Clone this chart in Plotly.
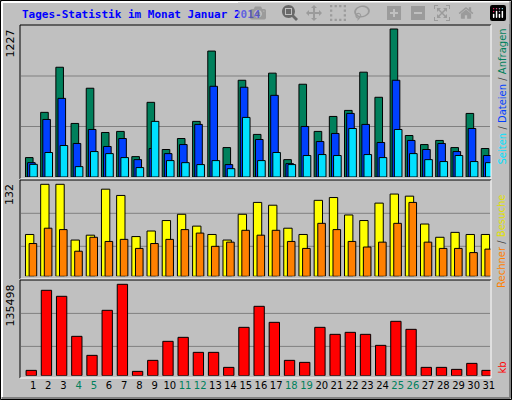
import plotly.graph_objects as go

days = list(range(1, 32))
weekend = [4, 5, 11, 12, 18, 19, 25, 26]
anfragen = [161,536,910,444,736,369,378,169,619,228,319,461,1044,244,802,353,861,144,769,378,502,552,869,661,1227,344,269,303,244,527,236]
dateien = [119,477,652,278,394,253,319,144,236,194,269,436,752,103,744,311,677,111,419,294,361,527,436,286,802,303,228,278,211,402,178]
seiten = [105,203,261,86,211,194,161,78,461,136,119,103,136,69,494,136,203,103,178,186,178,402,186,161,394,194,144,128,178,128,119]
besuche = [60,132,132,52,59,125,116,57,65,80,89,72,60,52,89,106,102,69,60,109,113,88,80,105,118,115,75,56,63,60,60]
rechner = [47,69,67,36,56,50,53,40,47,53,67,62,43,49,66,59,66,50,40,76,67,50,42,49,76,106,49,40,40,34,39]
kb = [7912,126600,117700,58350,30170,96930,135498,6430,22750,50940,56870,34620,34620,12360,71710,102860,79120,22750,19780,71710,61320,64290,61320,45000,80610,68740,12360,12360,9400,18300,7912]
max_top, max_mid, max_bot = 1227, 132, 135498

W, H = 512, 400
L, R, T, B = 20, 21, 25, 22
PW, PH = W - L - R, H - T - B
def px(x): return (x - L) / PW
def py(y): return (H - B - y) / PH

fig = go.Figure()
line = dict(color="black", width=1)
def bar(vals, color, yaxis, offset, width):
    fig.add_trace(go.Bar(x=days, y=vals, marker=dict(color=color, line=line),
                         offset=offset, width=width, yaxis=yaxis, showlegend=False))
bar(anfragen, "#00805C", "y", -0.5, 0.5)
bar(dateien, "#0040FF", "y", -0.36, 0.5)
bar(seiten, "#00E0FF", "y", -0.22, 0.5)
bar(besuche, "#FFFF00", "y2", -0.5, 0.55)
bar(rechner, "#FF8000", "y2", -0.26, 0.5)
bar(kb, "#FF0000", "y3", -0.46, 0.68)

ticktext = [f"<span style='color:#00805C'>{d}</span>" if d in weekend else str(d) for d in days]
ax = dict(showgrid=False, zeroline=False, showticklabels=False, fixedrange=True)
fig.update_layout(
    width=W, height=H, margin=dict(l=L, r=R, t=T, b=B),
    paper_bgcolor="#C0C0C0", plot_bgcolor="#C0C0C0", barmode="overlay",
    font=dict(family="DejaVu Sans", size=10, color="black"),
    xaxis=dict(range=[0.14, 31.14], tickvals=days, ticktext=ticktext, showgrid=False,
               zeroline=False, ticks="", anchor="free", position=0, tickangle=0,
               automargin=False, tickfont=dict(size=10)),
    yaxis=dict(ax, domain=[py(177), 1.0], range=[0, max_top * 152 / 148]),
    yaxis2=dict(ax, domain=[py(276.3), py(180)], range=[0, max_mid * 96.3 / 92]),
    yaxis3=dict(ax, domain=[py(375.7), py(280)], range=[0, max_bot * 95.7 / 91.4]),
)

shapes = []
for yax, dom_vals in [("y", [max_top * 50.5 / 148, max_top * 101 / 148]),
                      ("y2", [max_mid * 30 / 92, max_mid * 63 / 92]),
                      ("y3", [max_bot * 29.3 / 91.4, max_bot * 62.3 / 91.4])]:
    for v in dom_vals:
        shapes.append(dict(type="line", xref="paper", yref=yax, x0=px(21), x1=px(490),
                           y0=v, y1=v, line=dict(color="#808080", width=1), layer="below"))
for (y0, y1) in [(25, 179), (180, 279), (280, 378)]:
    shapes.append(dict(type="line", xref="paper", yref="paper", x0=px(20), x1=px(491), y0=py(y0), y1=py(y0), line=dict(color="black", width=1)))
    shapes.append(dict(type="line", xref="paper", yref="paper", x0=px(20), x1=px(20), y0=py(y0), y1=py(y1), line=dict(color="black", width=1)))
    shapes.append(dict(type="line", xref="paper", yref="paper", x0=px(491), x1=px(491), y0=py(y0), y1=py(y1), line=dict(color="white", width=1)))
    shapes.append(dict(type="line", xref="paper", yref="paper", x0=px(20), x1=px(491), y0=py(y1), y1=py(y1), line=dict(color="white", width=1)))
shapes.append(dict(type="rect", xref="paper", yref="paper", x0=px(0.5), x1=px(511.5), y0=py(0.5), y1=py(399.5), line=dict(color="black", width=1)))
shapes.append(dict(type="line", xref="paper", yref="paper", x0=px(2), x1=px(509), y0=py(2), y1=py(2), line=dict(color="white", width=2)))
shapes.append(dict(type="line", xref="paper", yref="paper", x0=px(2), x1=px(2), y0=py(2), y1=py(397), line=dict(color="white", width=2)))
shapes.append(dict(type="line", xref="paper", yref="paper", x0=px(510), x1=px(510), y0=py(2), y1=py(398), line=dict(color="#808080", width=2)))
shapes.append(dict(type="line", xref="paper", yref="paper", x0=px(2), x1=px(510), y0=py(398), y1=py(398), line=dict(color="#808080", width=2)))
fig.update_layout(shapes=shapes)

ann = [
    dict(text="<b>Tages-Statistik im Monat Januar 2014</b>", x=px(20), y=py(6), xanchor="left", yanchor="top",
         font=dict(family="DejaVu Sans Mono", size=11, color="#0000FF")),
    dict(text=f"{max_top}", x=px(18), y=py(27), xanchor="right", yanchor="top", textangle=-90, font=dict(size=11)),
    dict(text=f"{max_mid}", x=px(18), y=py(182), xanchor="right", yanchor="top", textangle=-90, font=dict(size=11)),
    dict(text=f"{max_bot}", x=px(18), y=py(282), xanchor="right", yanchor="top", textangle=-90, font=dict(size=11)),
    dict(text="<span style='color:#00E0FF'>Seiten</span> / <span style='color:#0040FF'>Dateien</span> / <span style='color:#00805C'>Anfragen</span>",
         x=px(494), y=py(27), xanchor="left", yanchor="top", textangle=-90, font=dict(color="#404040", size=10)),
    dict(text="<span style='color:#FF8000'>Rechner</span> / <span style='color:#E0E000'>Besuche</span>",
         x=px(494), y=py(290), xanchor="left", yanchor="bottom", textangle=-90, font=dict(color="#404040", size=10)),
    dict(text="kb", x=px(494), y=py(376), xanchor="left", yanchor="bottom", textangle=-90, font=dict(color="#FF0000", size=10)),
]
for a in ann:
    a.setdefault("xref", "paper"); a.setdefault("yref", "paper"); a["showarrow"] = False
fig.update_layout(annotations=ann)
fig.write_html("out.html", post_script="document.body.style.margin='0';document.body.style.overflow='hidden';")
